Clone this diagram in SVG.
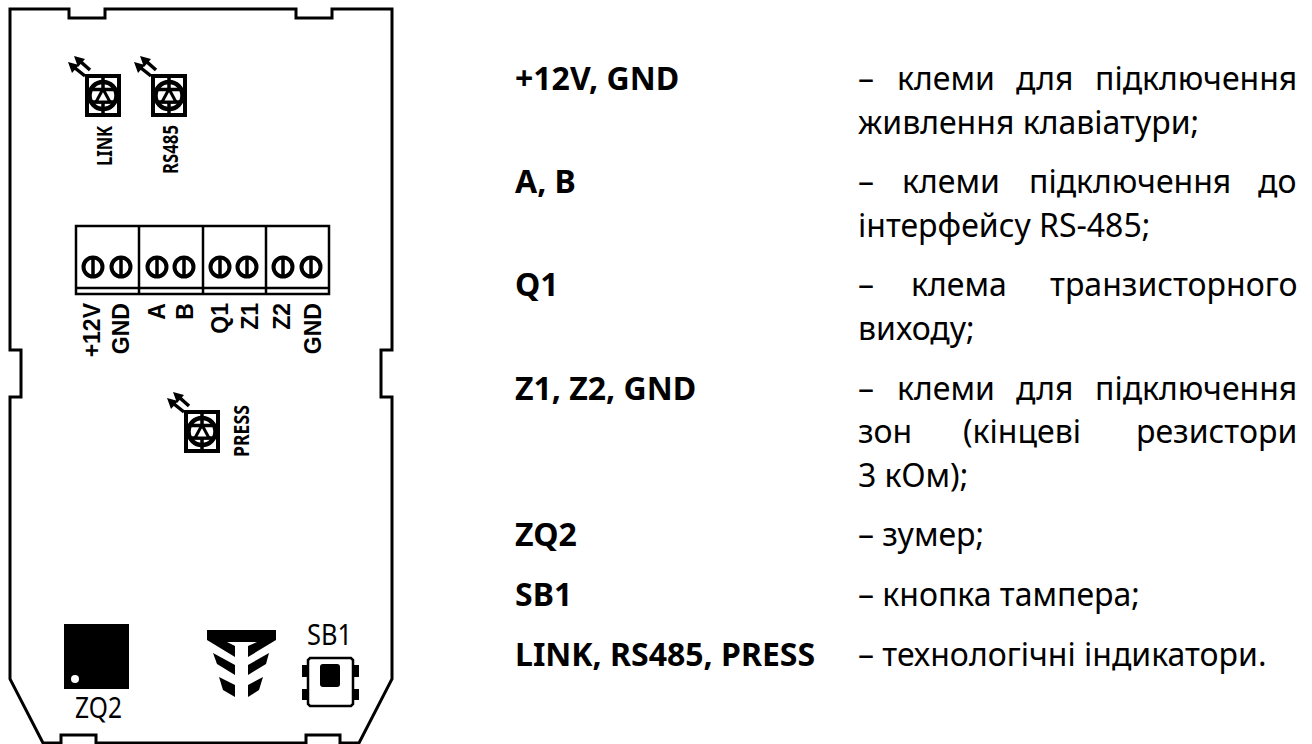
<svg xmlns="http://www.w3.org/2000/svg" width="1312" height="744" viewBox="0 0 1312 744" xmlns:xlink="http://www.w3.org/1999/xlink">
<style>
.t{font-family:"Noto Sans","Open Sans",sans-serif;font-size:32px;fill:#000}
.b{font-weight:700}
.ln{fill:none;stroke:#000;stroke-width:3}
.tl{font-family:"Liberation Sans",Arial,sans-serif;font-weight:700;font-size:23px;fill:#000;text-anchor:end}
.sl{font-family:"Noto Sans","Open Sans",sans-serif;font-weight:700;font-size:21px;fill:#000}
.pl{font-family:"Noto Sans","Open Sans",sans-serif;font-size:29px;fill:#000}
</style>
<defs>
<g id="led">
<rect x="2" y="2" width="32" height="39" fill="#fff" stroke="#000" stroke-width="4"/>
<path d="M18 2V41" stroke="#000" stroke-width="3.500"/>
<circle cx="18" cy="21.500" r="13.500" fill="#fff" stroke="#000" stroke-width="4.500"/>
<path d="M18 8V35M6 15.500H30M6 28H30" fill="none" stroke="#000" stroke-width="3.500"/>
<path d="M18 15L11 28H25Z" fill="#fff" stroke="#000" stroke-width="3"/>
<path d="M0 2L-10 -6M5 -4L-4 -12" fill="none" stroke="#000" stroke-width="3.500"/>
<path d="M-17 -12L-6 -9L-13 -1ZM-11 -18L0 -15L-7 -7Z" fill="#000"/>
</g>
<g id="screw">
<circle r="9.500" fill="none" stroke="#000" stroke-width="4"/>
<path d="M0 -10V10" stroke="#000" stroke-width="3.500"/>
</g>
</defs>
<rect width="1312" height="744" fill="#fff"/>
<g id="board">
<path class="ln" d="M10 9H69V18H105V9H296V18H332V9H392V350H381V397H392V679L359 743H340V735H306V743H96V735H61V743H43L10 679V397H21V350H10Z"/>
</g>
<g id="led-link"><use xlink:href="#led" x="85" y="74"/></g>
<g id="led-rs485"><use xlink:href="#led" x="151" y="74"/></g>
<g id="led-press"><use xlink:href="#led" x="184" y="410"/></g>
<text class="sl" transform="translate(112 166) rotate(-90)" textLength="40" lengthAdjust="spacingAndGlyphs">LINK</text>
<text class="sl" transform="translate(178 174) rotate(-90)" textLength="49" lengthAdjust="spacingAndGlyphs">RS485</text>
<text class="sl" transform="translate(249 457) rotate(-90)" textLength="52" lengthAdjust="spacingAndGlyphs">PRESS</text>
<g id="terminal">
<rect x="76" y="226" width="253" height="68" fill="#fff" stroke="#000" stroke-width="2.500"/>
<path d="M76 288H329M139 226V294M203 226V294M266 226V294" fill="none" stroke="#000" stroke-width="2.500"/>
<use xlink:href="#screw" x="93" y="267"/>
<use xlink:href="#screw" x="121" y="267"/>
<use xlink:href="#screw" x="157" y="267"/>
<use xlink:href="#screw" x="184" y="267"/>
<use xlink:href="#screw" x="220" y="267"/>
<use xlink:href="#screw" x="247" y="267"/>
<use xlink:href="#screw" x="283" y="267"/>
<use xlink:href="#screw" x="311" y="267"/>
<text class="tl" transform="translate(100 303) rotate(-90)">+12V</text>
<text class="tl" transform="translate(129 303) rotate(-90)">GND</text>
<text class="tl" transform="translate(165 303) rotate(-90)">A</text>
<text class="tl" transform="translate(193 303) rotate(-90)">B</text>
<text class="tl" transform="translate(228 303) rotate(-90)">Q1</text>
<text class="tl" transform="translate(258 303) rotate(-90)">Z1</text>
<text class="tl" transform="translate(290 303) rotate(-90)">Z2</text>
<text class="tl" transform="translate(321 303) rotate(-90)">GND</text>
</g>
<g id="zq2">
<rect x="64" y="624" width="65" height="65" fill="#000"/>
<circle cx="75" cy="679" r="4" fill="#fff"/>
<text class="pl" x="75" y="718" textLength="47" lengthAdjust="spacingAndGlyphs">ZQ2</text>
</g>
<g id="logo" fill="#000">
<path d="M207 630H276V640L248 657V646L257 642H227L235 646V657L207 640Z"/>
<path d="M213 653L235 665V675L217 664Z"/>
<path d="M269 653L248 665V675L266 664Z"/>
<path d="M219 677L235 685V697L223 690Z"/>
<path d="M263 677L248 685V697L259 690Z"/>
</g>
<g id="sb1">
<text class="pl" x="307" y="645" textLength="45" lengthAdjust="spacingAndGlyphs">SB1</text>
<path d="M310 658H351L353 660V704L351 706H310L308 704V660Z" fill="#fff" stroke="#000" stroke-width="2.500"/>
<rect x="320" y="664" width="20" height="23" rx="3" fill="#000"/>
<path d="M302 665H307V677H302ZM302 689H307V700H302ZM354 665H359V677H354ZM354 689H359V700H354Z" fill="#000"/>
</g>
<g id="legend">
<text class="t b" x="515" y="90">+12V, GND</text>
<text class="t" x="858" y="90">–</text><text class="t" x="897" y="90">клеми</text><text class="t" x="1016" y="90">для</text><text class="t" x="1095" y="90">підключення</text>
<text class="t" x="858" y="134">живлення клавіатури;</text>
<text class="t b" x="515" y="193">A, B</text>
<text class="t" x="858" y="193">–</text><text class="t" x="902" y="193">клеми</text><text class="t" x="1029" y="193">підключення</text><text class="t" x="1258" y="193">до</text>
<text class="t" x="858" y="237">інтерфейсу RS-485;</text>
<text class="t b" x="515" y="296">Q1</text>
<text class="t" x="858" y="296">–</text><text class="t" x="911" y="296">клема</text><text class="t" x="1050" y="296">транзисторного</text>
<text class="t" x="858" y="340">виходу;</text>
<text class="t b" x="515" y="400">Z1, Z2, GND</text>
<text class="t" x="858" y="400">–</text><text class="t" x="897" y="400">клеми</text><text class="t" x="1016" y="400">для</text><text class="t" x="1095" y="400">підключення</text>
<text class="t" x="858" y="443">зон</text><text class="t" x="963" y="443">(кінцеві</text><text class="t" x="1136" y="443">резистори</text>
<text class="t" x="858" y="487">3 кОм);</text>
<text class="t b" x="515" y="546">ZQ2</text><text class="t" x="858" y="546">– зумер;</text>
<text class="t b" x="515" y="606">SB1</text><text class="t" x="858" y="606">– кнопка тампера;</text>
<text class="t b" x="515" y="666">LINK, RS485, PRESS</text><text class="t" x="858" y="666">– технологічні індикатори.</text>
</g>
</svg>
